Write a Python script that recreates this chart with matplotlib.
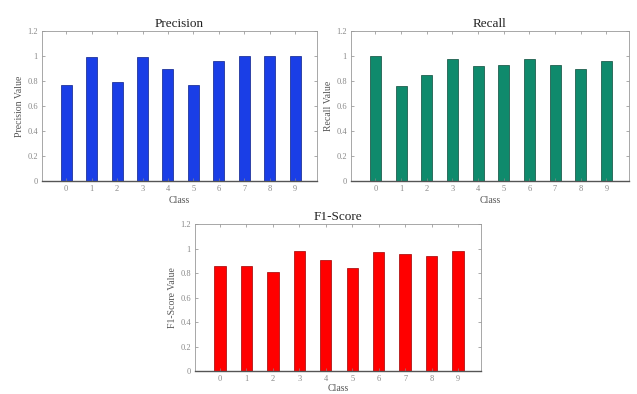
import numpy as np
import matplotlib
matplotlib.use('Agg')
import matplotlib.pyplot as plt

plt.rcParams['font.family'] = ['Liberation Serif', 'DejaVu Serif']

classes = [0, 1, 2, 3, 4, 5, 6, 7, 8, 9]
precision = [0.77, 0.99, 0.79, 0.99, 0.90, 0.77, 0.96, 1.00, 1.00, 1.00]
recall = [1.00, 0.76, 0.85, 0.98, 0.92, 0.93, 0.98, 0.93, 0.90, 0.96]
f1_score = [0.86, 0.86, 0.81, 0.98, 0.91, 0.84, 0.97, 0.96, 0.94, 0.98]

yticks = [0, 0.2, 0.4, 0.6, 0.8, 1, 1.2]
ytick_labels = ['0', '0.2', '0.4', '0.6', '0.8', '1', '1.2']

fig = plt.figure(figsize=(6.37, 3.94), dpi=100)

panels = [
    ([0.066, 0.541, 0.432, 0.380], precision, '#1a3ee6', '#0a1f8a', 'Precision', 'Precision Value', 2),
    ([0.551, 0.541, 0.436, 0.380], recall, '#0f8a6c', '#0b4a3a', 'Recall', 'Recall Value', 2),
    ([0.306, 0.058, 0.449, 0.373], f1_score, '#ff0000', '#a00000', 'F1-Score', 'F1-Score Value', 0.5),
]

for rect, vals, color, edge, title, ylabel, xpad in panels:
    ax = fig.add_axes(rect)
    ax.bar(classes, vals, width=0.43, color=color, edgecolor=edge, linewidth=0.5)
    ax.set_xlim(-0.95, 9.87)
    ax.set_ylim(0, 1.2)
    ax.set_xticks(classes)
    ax.set_yticks(yticks)
    ax.set_yticklabels(ytick_labels)
    ax.tick_params(direction='in', length=2, width=0.5, labelsize=6,
                   colors='#888888', top=True, right=True, pad=3)
    for s in ax.spines.values():
        s.set_color('#999999')
        s.set_linewidth(0.6)
    ax.spines['bottom'].set_color('#555555')
    ax.spines['bottom'].set_linewidth(1.0)
    ax.set_title(title, fontsize=9.5, pad=3, color='#222222')
    ax.set_xlabel('Class', fontsize=7, color='#555555', labelpad=xpad)
    ax.set_ylabel(ylabel, fontsize=7, color='#555555', labelpad=2)

plt.savefig('out.png', dpi=100)
